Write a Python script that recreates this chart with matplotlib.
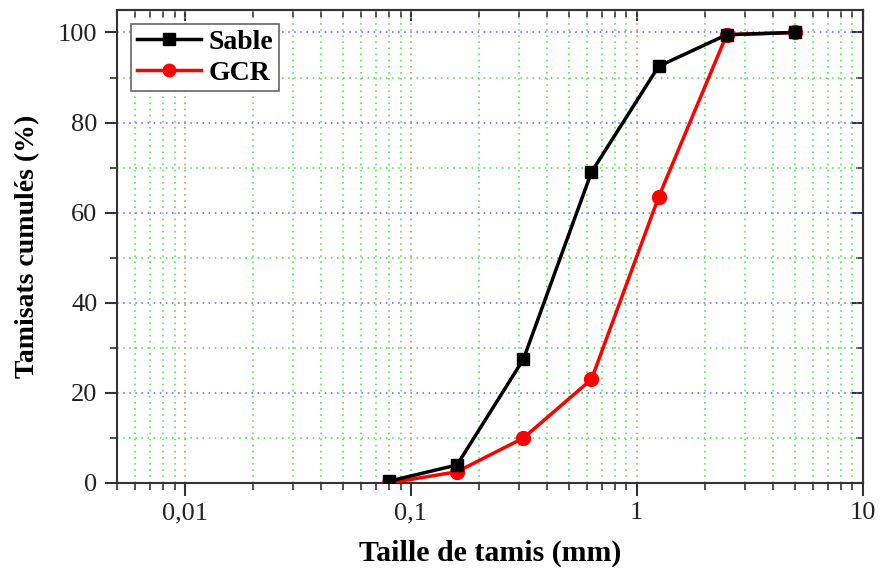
import matplotlib
matplotlib.use("Agg")
from matplotlib import pyplot as plt
from matplotlib.ticker import LogLocator, FixedLocator, FuncFormatter, NullFormatter

# tamis (mm) et tamisats cumulés (%)
tamis = [0.08, 0.16, 0.315, 0.63, 1.25, 2.5, 5]
sable = [0.4, 4, 27.5, 69, 92.5, 99.5, 100]
gcr = [0, 2.5, 10, 23, 63.5, 99.5, 100]

plt.rcParams['font.family'] = ['Liberation Serif', 'DejaVu Serif']

fig = plt.figure(figsize=(8.83, 5.72), dpi=100)
ax = fig.add_axes([0.1325, 0.1556, 0.8445, 0.827])

ax.plot(tamis, sable, color="black", marker="s", markersize=9, linewidth=2.5, label="Sable", zorder=4)
ax.plot(tamis, gcr, color="red", marker="o", markersize=10, linewidth=2.5, label="GCR", zorder=3)

ax.set_xscale("log")
ax.set_xlim(0.005, 10)
ax.set_ylim(0, 105)

# grille
ax.xaxis.set_major_locator(FixedLocator([0.01, 0.1, 1, 10]))
ax.xaxis.set_minor_locator(LogLocator(base=10, subs=range(2, 10)))
ax.xaxis.set_major_formatter(FuncFormatter(lambda v, p: "{:g}".format(v).replace(".", ",")))
ax.xaxis.set_minor_formatter(NullFormatter())
ax.set_yticks(range(0, 101, 20))
ax.set_yticks(range(10, 100, 20), minor=True)

ax.grid(which="major", axis="y", color="#6060ff", linestyle=(0, (1, 3)), linewidth=1.1)
ax.grid(which="minor", axis="y", color="#40e040", linestyle=(0, (1, 3)), linewidth=1.1)
ax.grid(which="major", axis="x", color="#b09850", linestyle=(0, (1, 3)), linewidth=1.1)
ax.grid(which="minor", axis="x", color="#40e040", linestyle=(0, (1, 3)), linewidth=1.1)
ax.set_axisbelow(True)

for s in ax.spines.values():
    s.set_linewidth(1.5)
    s.set_color("#333333")

ax.tick_params(which="major", direction="out", length=9, width=1.5, labelsize=19, colors="#333333",
               labelcolor="#222222", pad=5)
ax.tick_params(which="minor", direction="out", length=5, width=1.2, colors="#333333")

# ticks internes en haut et a droite
top = ax.secondary_xaxis("top")
top.xaxis.set_major_locator(FixedLocator([0.01, 0.1, 1, 10]))
top.xaxis.set_minor_locator(LogLocator(base=10, subs=range(2, 10)))
top.tick_params(which="major", direction="in", length=8, width=1.5, labeltop=False, colors="#333333")
top.tick_params(which="minor", direction="in", length=5, width=1.2, colors="#333333")
right = ax.secondary_yaxis("right")
right.set_yticks(range(0, 101, 20))
right.set_yticks(range(10, 100, 20), minor=True)
right.tick_params(which="major", direction="in", length=8, width=1.5, labelright=False, colors="#333333")
right.tick_params(which="minor", direction="in", length=5, width=1.2, colors="#333333")
for sax in (top, right):
    for s in sax.spines.values():
        s.set_linewidth(1.5)
        s.set_color("#333333")

ax.set_xlabel("Taille de tamis (mm)", fontsize=21.5, fontweight="bold", labelpad=11)
ax.set_ylabel("Tamisats cumulés (%)", fontsize=20, fontweight="bold", labelpad=13)

leg = ax.legend(loc="upper left", bbox_to_anchor=(0.019, 0.971), prop={"weight": "bold", "size": 20},
                fancybox=False, edgecolor="#666666", framealpha=1, handlelength=2.3, handletextpad=0.3,
                borderpad=0.2, labelspacing=0.2, borderaxespad=0, markerscale=0.9)
leg.get_frame().set_linewidth(1.2)

fig.savefig("out.png", dpi=100)
